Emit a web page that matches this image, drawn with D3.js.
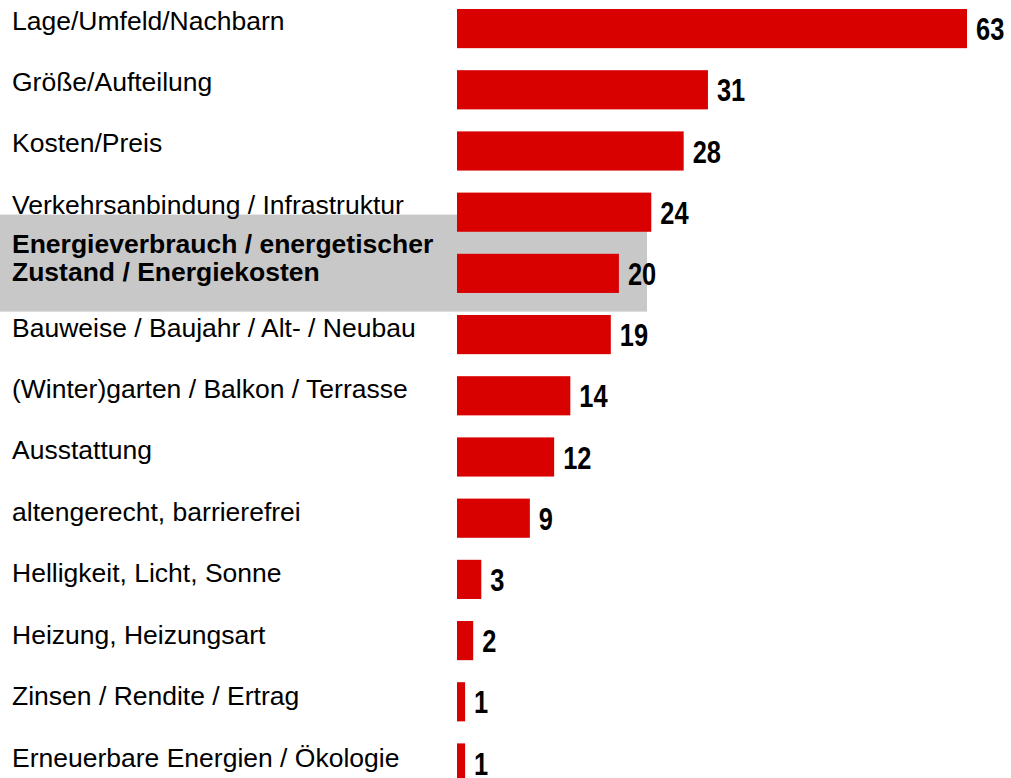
<!DOCTYPE html>
<html>
<head>
<meta charset="utf-8">
<script src="https://cdn.jsdelivr.net/npm/d3@7"></script>
<style>
  html, body { margin: 0; padding: 0; background: #fff; }
  svg { display: block; }
</style>
</head>
<body>
<svg id="chart" width="1011" height="778"></svg>
<script>
const categories = [
  "Lage/Umfeld/Nachbarn",
  "Größe/Aufteilung",
  "Kosten/Preis",
  "Verkehrsanbindung / Infrastruktur",
  "Energieverbrauch / energetischer Zustand / Energiekosten",
  "Bauweise / Baujahr / Alt- / Neubau",
  "(Winter)garten / Balkon / Terrasse",
  "Ausstattung",
  "altengerecht, barrierefrei",
  "Helligkeit, Licht, Sonne",
  "Heizung, Heizungsart",
  "Zinsen / Rendite / Ertrag",
  "Erneuerbare Energien / Ökologie"
];
const values = [63, 31, 28, 24, 20, 19, 14, 12, 9, 3, 2, 1, 1];
const highlighted = ["Energieverbrauch / energetischer Zustand / Energiekosten"];
const highlightLines = [["Energieverbrauch / energetischer", "Zustand / Energiekosten"]];

const svg = d3.select("#chart");
const step = 61.2, p = 0.36;
const y = d3.scaleBand()
  .domain(categories)
  .range([9 - step * p, 9 - step * p + step * (categories.length + p)])
  .paddingInner(p).paddingOuter(p);
const x = d3.scaleLinear().domain([0, 63]).range([457, 967]);

// highlight box
svg.selectAll("rect.hl").data(highlighted).enter().append("rect")
  .attr("class", "hl")
  .attr("x", 0)
  .attr("y", d => y(d) - 39.2)
  .attr("width", 647)
  .attr("height", 97)
  .attr("fill", "#c8c8c8");

const rows = categories.map((c, i) => ({ c, v: values[i] }));

// bars
svg.selectAll("rect.bar").data(rows).enter().append("rect")
  .attr("class", "bar")
  .attr("x", x(0))
  .attr("y", d => y(d.c))
  .attr("width", d => x(d.v) - x(0))
  .attr("height", y.bandwidth())
  .attr("fill", "#d90000");

// category labels
const labFont = "'Liberation Sans', Arial, sans-serif";
svg.selectAll("text.lab").data(rows.filter(d => !highlighted.includes(d.c))).enter().append("text")
  .attr("class", "lab")
  .attr("x", 12)
  .attr("y", (d, i) => y(d.c) + 20.5 + categories.indexOf(d.c) * 0.22)
  .attr("font-family", labFont)
  .attr("font-size", 26.5)
  .attr("fill", "#000")
  .text(d => d.c);

highlighted.forEach((h, k) => {
  const t = svg.append("text")
    .attr("font-family", labFont)
    .attr("font-size", 26.5)
    .attr("font-weight", "bold")
    .attr("fill", "#000");
  highlightLines[k].forEach((line, j) => {
    t.append("tspan")
      .attr("x", 12)
      .attr("y", y(h) + 20.5 - 21.5 + j * 27.7)
      .text(line);
  });
});

// value labels (condensed bold)
svg.selectAll("text.val").data(rows).enter().append("text")
  .attr("class", "val")
  .attr("transform", d => `translate(${x(d.v) + 9},${y(d.c) + 31.2}) scale(0.82,1)`)
  .attr("font-family", "'Liberation Sans', Arial, sans-serif")
  .attr("font-weight", "bold")
  .attr("font-size", 31)
  .attr("fill", "#000")
  .text(d => d.v);
</script>
</body>
</html>
